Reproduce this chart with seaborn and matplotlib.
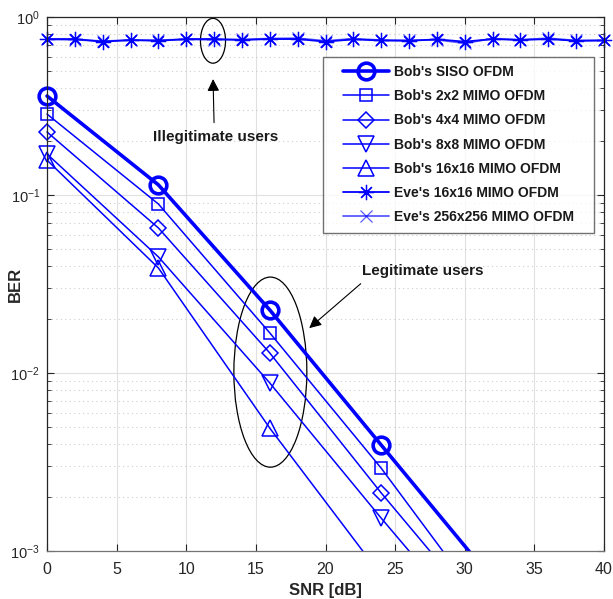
import numpy as np
import pandas as pd
import matplotlib
matplotlib.use("Agg")
import matplotlib.pyplot as plt
from matplotlib.patches import Ellipse
from matplotlib.path import Path
from matplotlib.transforms import Bbox, TransformedBbox
import seaborn as sns

# SNR grid for the legitimate (Bob) links and for the eavesdropper (Eve)
snr_bob = [0, 8, 16, 24, 32]
snr_eve = list(range(0, 41, 2))

ber_siso = [0.36, 0.114, 0.0226, 0.00394, 0.00069]
ber_2x2 = [0.285, 0.089, 0.0168, 0.00292, 0.00042]
ber_4x4 = [0.226, 0.0653, 0.01295, 0.00212, 0.00038]
ber_8x8 = [0.170, 0.0449, 0.00879, 0.00153, 0.00028]
ber_16x16 = [0.157, 0.0389, 0.0049, 0.00073, 0.00011]

ber_eve_16 = [0.752, 0.752, 0.727, 0.743, 0.735, 0.752, 0.752, 0.743, 0.752, 0.752,
              0.727, 0.749, 0.738, 0.735, 0.749, 0.727, 0.752, 0.743, 0.752, 0.735, 0.738]
ber_eve_256 = [0.748, 0.745, 0.733, 0.740, 0.742, 0.748, 0.745, 0.748, 0.757, 0.760,
               0.735, 0.755, 0.742, 0.740, 0.745, 0.712, 0.757, 0.745, 0.760, 0.738, 0.740]

labels = ["Bob's SISO OFDM", "Bob's 2x2 MIMO OFDM", "Bob's 4x4 MIMO OFDM",
          "Bob's 8x8 MIMO OFDM", "Bob's 16x16 MIMO OFDM",
          "Eve's 16x16 MIMO OFDM", "Eve's 256x256 MIMO OFDM"]

rows = []
for lab, vals in zip(labels[:5], [ber_siso, ber_2x2, ber_4x4, ber_8x8, ber_16x16]):
    rows += [(lab, s, b) for s, b in zip(snr_bob, vals)]
for lab, vals in zip(labels[5:], [ber_eve_16, ber_eve_256]):
    rows += [(lab, s, b) for s, b in zip(snr_eve, vals)]
df = pd.DataFrame(rows, columns=["curve", "SNR", "BER"])

sns.set_style("ticks")
plt.rcParams["font.family"] = ["Liberation Sans", "DejaVu Sans"]
plt.rcParams["axes.unicode_minus"] = False

fig = plt.figure(figsize=(6.13, 5.99), dpi=100)
ax = fig.add_axes([0.0767, 0.0801, 0.9086, 0.8915])

blue = (0, 0, 1)
styles = {
    labels[0]: dict(marker="o", markersize=12, linewidth=2.6, markeredgewidth=2.6),
    labels[1]: dict(marker="s", markersize=9, linewidth=1.1, markeredgewidth=1.1),
    labels[2]: dict(marker="D", markersize=8.5, linewidth=1.1, markeredgewidth=1.1),
    labels[3]: dict(marker="v", markersize=12, linewidth=1.1, markeredgewidth=1.1),
    labels[4]: dict(marker="^", markersize=12, linewidth=1.1, markeredgewidth=1.1),
    labels[5]: dict(marker=(8, 2, 0), markersize=11, linewidth=1.3, markeredgewidth=0.9),
    labels[6]: dict(marker="x", markersize=9, linewidth=1.3, markeredgewidth=0.9, alpha=0.65),
}

for lab in labels:
    sub = df[df["curve"] == lab]
    sns.lineplot(data=sub, x="SNR", y="BER", ax=ax, color=blue, label=lab,
                 markerfacecolor="none", markeredgecolor=blue, **styles[lab])

ax.set_yscale("log")
ax.set_xlim(0, 40)
ax.set_ylim(1e-3, 1)
ax.set_xticks(range(0, 41, 5))

# Let markers on the left/right/top edges show in full, but keep clipping at the bottom
clip = TransformedBbox(Bbox([[-0.04, 0.0], [1.04, 1.04]]), ax.transAxes)
for ln in ax.get_lines():
    ln.set_clip_box(clip)

ax.grid(True, which="major", color="0.88", linewidth=0.8, linestyle="-")
ax.grid(True, which="minor", axis="y", color="0.8", linewidth=0.8, linestyle=(0, (1, 3)))
ax.set_axisbelow(True)

ax.tick_params(which="both", direction="in", top=True, right=True, colors="0.15")
ax.tick_params(which="major", length=5, width=0.8)
ax.tick_params(which="minor", length=3, width=0.6)
ax.tick_params(axis="x", which="major", pad=8, labelsize=11.5)
ax.tick_params(axis="y", which="major", pad=5, labelsize=10.5)
for sp in ax.spines.values():
    sp.set_color("0.15")
    sp.set_linewidth(0.9)
ax.spines["bottom"].set_color("0.45")

ax.set_xlabel("SNR [dB]", fontsize=12, fontweight="bold", color="0.15", labelpad=4)
ax.set_ylabel("BER", fontsize=12, fontweight="bold", color="0.15")
ax.yaxis.set_label_coords(-0.043, 0.5)


def wide_box(x0, y0, width, height, mutation_size):
    """Square legend frame with extra horizontal padding."""
    px = 0.83 * mutation_size
    xa, xb = x0 - px, x0 + width + px
    ya, yb = y0, y0 + height
    return Path([(xa, ya), (xb, ya), (xb, yb), (xa, yb), (xa, ya)],
                [Path.MOVETO, Path.LINETO, Path.LINETO, Path.LINETO, Path.CLOSEPOLY])


leg = ax.legend(loc="upper right", bbox_to_anchor=(0.962, 0.926), borderaxespad=0,
                prop=dict(weight="bold", size=10), frameon=True, fancybox=False,
                handlelength=3.3, labelspacing=0.73, borderpad=0.62,
                handletextpad=0.4)
leg.get_frame().set_boxstyle(wide_box)
leg.get_frame().set_edgecolor("0.3")
leg.get_frame().set_linewidth(1.0)
for t in leg.get_texts():
    t.set_color("0.1")

# Eavesdropper group
ax.add_patch(Ellipse((0.298, 0.9555), 0.045, 0.084, transform=ax.transAxes,
                     fill=False, edgecolor="black", linewidth=0.9))
ax.annotate("", xy=(0.298, 0.889), xytext=(0.300, 0.797), xycoords="axes fraction",
            arrowprops=dict(arrowstyle="-|>", color="black", lw=0.8, mutation_scale=18))
ax.text(0.303, 0.775, "Illegitimate users", transform=ax.transAxes, ha="center",
        va="center", fontsize=11, fontweight="bold", color="0.1")

# Legitimate group
ax.add_patch(Ellipse((0.401, 0.335), 0.131, 0.356, transform=ax.transAxes,
                     fill=False, edgecolor="black", linewidth=0.9))
ax.annotate("", xy=(0.467, 0.414), xytext=(0.567, 0.504), xycoords="axes fraction",
            arrowprops=dict(arrowstyle="-|>", color="black", lw=0.8, mutation_scale=18))
ax.text(0.675, 0.524, "Legitimate users", transform=ax.transAxes, ha="center",
        va="center", fontsize=11, fontweight="bold", color="0.1")

fig.savefig("out.png", dpi=100)
